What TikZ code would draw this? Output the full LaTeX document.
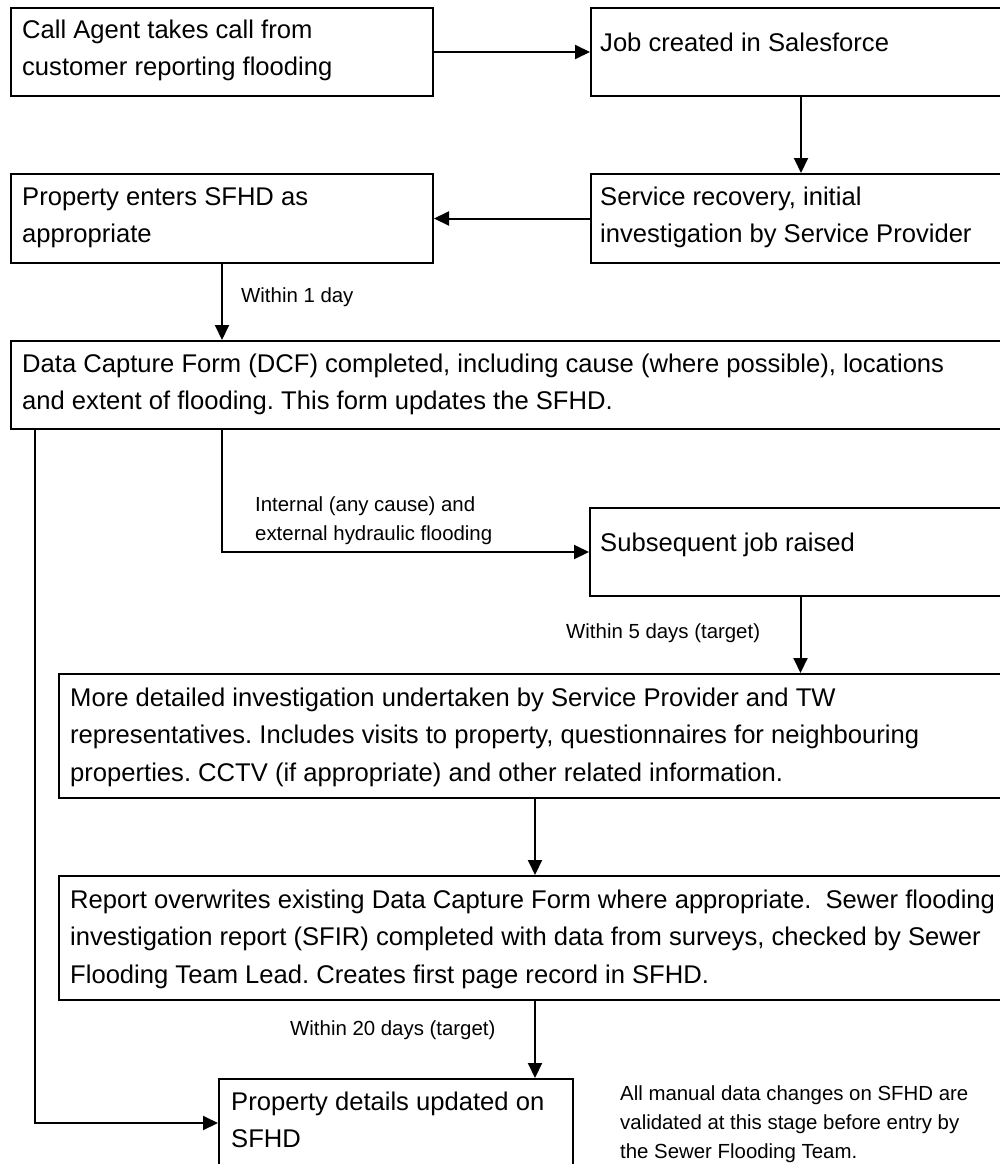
\documentclass[tikz,border=0pt]{standalone}
\usepackage{fontspec}
\setmainfont{Liberation Sans}
\usetikzlibrary{arrows.meta}
\frenchspacing
\begin{document}
\begin{tikzpicture}[x=1pt,y=-1pt,
  box/.style={draw, line width=2pt, anchor=north west, inner sep=0pt},
  big/.style={font=\fontsize{25.6}{37.5}\selectfont, anchor=north west, inner sep=0pt, align=left},
  small/.style={font=\fontsize{20.4}{29}\selectfont, anchor=north west, inner sep=0pt, align=left},
  arr/.style={line width=2pt, -{Triangle[length=15pt,width=14pt]}},
  conn/.style={line width=2pt}]
\useasboundingbox (0,0) rectangle (1000,1164);
\clip (0,0) rectangle (1000,1164);
% boxes
\node[box, minimum width=422pt, minimum height=88pt] (b1) at (10,7) {};
\node[box, minimum width=420pt, minimum height=88pt] (b2) at (590,7) {};
\node[box, minimum width=420pt, minimum height=89pt] (b3) at (590,173) {};
\node[box, minimum width=422pt, minimum height=89pt] (b4) at (10,173) {};
\node[box, minimum width=1000pt, minimum height=88pt] (dcf) at (10,340) {};
\node[box, minimum width=421pt, minimum height=88pt] (sub) at (589,507) {};
\node[box, minimum width=952pt, minimum height=124pt] (md) at (58,673) {};
\node[box, minimum width=952pt, minimum height=124pt] (rep) at (58,875) {};
\node[box, minimum width=354pt, minimum height=88pt] (pd) at (218,1078) {};
% texts
\node[big] (t1) at (22,11.75) {\strut Call Agent takes call from\\customer reporting flooding};
\node[big] (t2) at (600,24.75) {\strut Job created in Salesforce};
\node[big] (t3) at (600,178.75) {\strut Service recovery, initial\\investigation by Service Provider};
\node[big] (t4) at (22,178.75) {\strut Property enters SFHD as\\appropriate};
\node[big] (tdcf) at (22,345.75) {\strut Data Capture Form (DCF) completed, including cause (where possible), locations\\and extent of flooding. This form updates the SFHD.};
\node[big] (tsub) at (600,524.75) {\strut Subsequent job raised};
\node[big] (tmd) at (70,679.75) {\strut More detailed investigation undertaken by Service Provider and TW\\representatives. Includes visits to property, questionnaires for neighbouring\\properties. CCTV (if appropriate) and other related information.};
\node[big] (trep) at (70,881.75) {\strut Report overwrites existing Data Capture Form where appropriate.~ Sewer flooding\\investigation report (SFIR) completed with data from surveys, checked by Sewer\\Flooding Team Lead. Creates first page record in SFHD.};
\node[big] (tpd) at (231,1083.75) {\strut Property details updated on\\SFHD};
% small labels
\node[small] (w1) at (241,281.7) {\strut Within 1 day};
\node[small] (lint) at (255,490.7) {\strut Internal (any cause) and\\external hydraulic flooding};
\node[small] (w5) at (566,617.7) {\strut Within 5 days (target)};
\node[small] (w20) at (290,1014.7) {\strut Within 20 days (target)};
\node[small] (note) at (620,1079.7) {\strut All manual data changes on SFHD are\\validated at this stage before entry by\\the Sewer Flooding Team.};
% connectors
\draw[arr] (b1.east) -- (b2.west);
\draw[arr] (b2.south) -- (b3.north);
\draw[arr] (b3.west) -- (b4.east);
\draw[arr] (b4.south) -- (b4.south |- dcf.north);
\draw[arr] (b4.south |- dcf.south) -- (b4.south |- sub.west) -- (sub.west);
\draw[arr] (sub.south) -- (sub.south |- md.north);
\draw[arr] (md.south) -- (rep.north);
\draw[arr] (rep.south) -- (rep.south |- pd.north);
\draw[arr] ([xshift=25pt]dcf.south west) -- ([xshift=25pt]dcf.south west |- pd.west) -- (pd.west);
\end{tikzpicture}
\end{document}
